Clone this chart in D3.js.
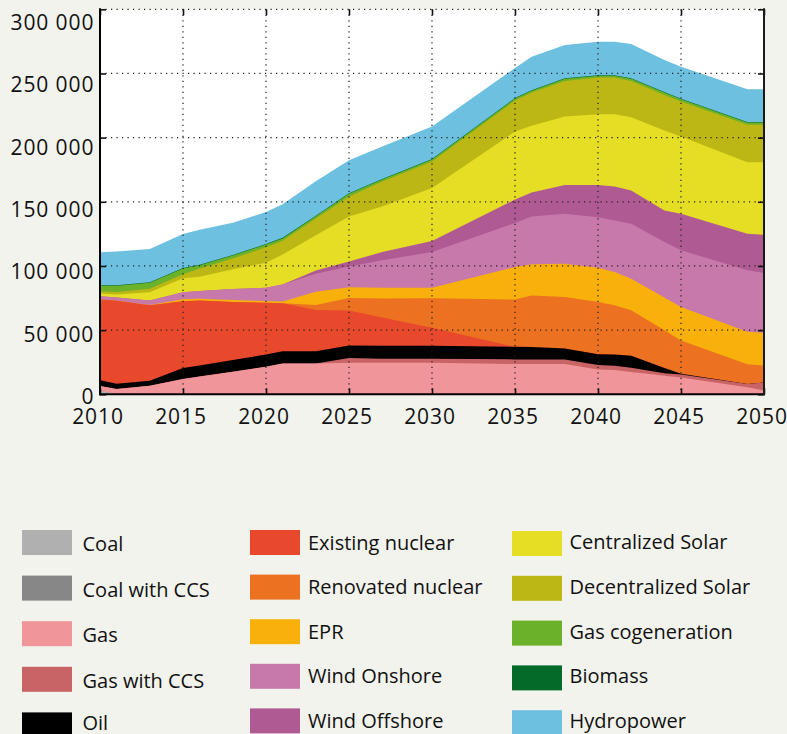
<!DOCTYPE html>
<html>
<head>
<meta charset="utf-8">
<title>Installed capacity by source</title>
<script src="https://d3js.org/d3.v7.min.js"></script>
<style>
  body { margin: 0; background: #f3f3ed; }
  svg { display: block; }
</style>
</head>
<body>
<svg id="chart"></svg>
<script>
// data (MW)
let years = [2010, 2011, 2013, 2015, 2016, 2018, 2020, 2021, 2023, 2025, 2027, 2030, 2035, 2036, 2038, 2040, 2041, 2042, 2044, 2045, 2049, 2050];

let coal               = [2500, 0, 0, 0, 0, 0, 0, 0, 0, 0, 0, 0, 0, 0, 0, 0, 0, 0, 0, 0, 0, 0];
let coalCCS            = [0, 0, 0, 0, 0, 0, 0, 0, 0, 0, 0, 0, 0, 0, 0, 0, 0, 0, 0, 0, 0, 0];
let gas                = [4000, 4200, 6600, 12000, 13800, 17500, 21500, 24000, 24000, 24600, 24600, 24600, 23600, 23600, 23600, 19400, 18900, 17400, 14400, 13000, 5400, 2900];
let gasCCS             = [0, 0, 0, 0, 0, 0, 0, 0, 0, 3600, 3100, 3100, 3600, 3600, 3600, 3400, 3400, 3300, 2100, 2500, 2600, 6200];
let oil                = [4500, 4100, 3900, 8500, 8700, 9300, 9500, 9600, 9600, 9900, 10100, 10100, 9800, 9600, 8500, 8500, 8800, 9300, 3900, 500, 0, 0];
let existingNuclear    = [62900, 64500, 58900, 52100, 50500, 45200, 40300, 37300, 32100, 27200, 22000, 14000, 0, 0, 0, 0, 0, 0, 0, 0, 0, 0];
let renovatedNuclear   = [0, 0, 0, 0, 0, 0, 0, 0, 3900, 9700, 14800, 23100, 36800, 40100, 40200, 40700, 38300, 35500, 29600, 26000, 15500, 13400];
let epr                = [0, 0, 200, 1400, 1400, 1400, 1400, 1400, 10300, 8500, 8500, 8200, 25400, 24400, 25900, 26700, 25900, 24600, 25400, 26100, 25200, 25400];
let windOnshore        = [2500, 2600, 3500, 5600, 6100, 8600, 10300, 13200, 14100, 16000, 21300, 27800, 34200, 37300, 38800, 39300, 40100, 42800, 43200, 44100, 47900, 46600];
let windOffshore       = [0, 0, 0, 0, 0, 0, 0, 0, 2500, 3900, 6500, 8500, 18400, 18700, 22400, 25000, 26600, 26000, 24600, 28500, 28500, 29800];
let centralizedSolar   = [2100, 2400, 6500, 10900, 11100, 15400, 19500, 23500, 27500, 35100, 35500, 41300, 53000, 51900, 53400, 55200, 56200, 57000, 62300, 60200, 55800, 56600];
let decentralizedSolar = [1800, 2000, 2600, 3100, 6500, 8500, 12000, 10600, 13000, 15700, 19500, 20700, 24100, 25900, 27800, 28600, 28600, 28300, 27800, 27200, 29100, 29100];
let gasCogeneration    = [4200, 4800, 4700, 4400, 2400, 2300, 2300, 1900, 1800, 2100, 1500, 1500, 1500, 1500, 1600, 1500, 1500, 1600, 1800, 1800, 1800, 1800];
let biomass            = [400, 400, 400, 400, 400, 400, 400, 400, 400, 400, 400, 400, 400, 400, 400, 400, 400, 400, 400, 400, 400, 400];
let hydropower         = [25800, 26200, 26000, 26600, 27300, 25000, 24800, 26200, 26800, 25700, 25300, 25400, 23500, 26100, 26000, 26100, 26100, 26700, 25000, 25000, 25500, 25500];

// legend labels, in stacking order (bottom first)
let names = ['Coal', 'Coal with CCS', 'Gas', 'Gas with CCS', 'Oil',
             'Existing nuclear', 'Renovated nuclear', 'EPR', 'Wind Onshore', 'Wind Offshore',
             'Centralized Solar', 'Decentralized Solar', 'Gas cogeneration', 'Biomass', 'Hydropower'];
let colors = ['#b0b0b1', '#878787', '#f09599', '#c96466', '#000000',
              '#e8492c', '#ec7121', '#f8b10a', '#c879ac', '#b05a93',
              '#e5de25', '#bcb714', '#6cb12a', '#036a2a', '#6dc0e0'];
let series = [coal, coalCCS, gas, gasCCS, oil,
              existingNuclear, renovatedNuclear, epr, windOnshore, windOffshore,
              centralizedSolar, decentralizedSolar, gasCogeneration, biomass, hydropower];

let yTicks = [0, 50000, 100000, 150000, 200000, 250000, 300000];
let xTicks = [2010, 2015, 2020, 2025, 2030, 2035, 2040, 2045, 2050];

// build rows for d3.stack
let rows = years.map((yr, i) => {
  let r = {year: yr};
  names.forEach((n, k) => { r[n] = series[k][i]; });
  return r;
});

let svg = d3.select('#chart').attr('width', 787).attr('height', 734);

let plot = {left: 100, right: 764, top: 9.3, bottom: 394.3};

let x = d3.scaleLinear().domain([2010, 2050]).range([plot.left, plot.right]);
let y = d3.scaleLinear().domain([0, 300000]).range([plot.bottom, plot.top]);
// the tick labels sit on a slightly tighter scale than the gridlines
let yLabel = d3.scaleLinear().domain([0, 300000]).range([396.6, 22.7]);

svg.append('rect')
  .attr('x', plot.left).attr('y', plot.top)
  .attr('width', plot.right - plot.left).attr('height', plot.bottom - plot.top)
  .attr('fill', '#ffffff');

let stacked = d3.stack().keys(names)(rows);

// paint from the top layer down, each from the baseline, so no seams show
let area = d3.area()
  .x(d => x(d.data.year))
  .y0(y(0))
  .y1(d => y(d[1]));

svg.append('g').attr('id', 'areas')
  .selectAll('path')
  .data(stacked.slice().reverse())
  .join('path')
  .attr('fill', d => colors[d.index])
  .attr('d', area);

// dotted grid
let grid = svg.append('g').attr('id', 'grid')
  .attr('stroke', '#1e1e1e').attr('stroke-width', 1.2).attr('stroke-dasharray', '1.2,4.3');

grid.selectAll('line.h')
  .data(yTicks.slice(1))
  .join('line').attr('class', 'h')
  .attr('x1', plot.left).attr('x2', plot.right)
  .attr('y1', d => y(d)).attr('y2', d => y(d));

grid.selectAll('line.v')
  .data(xTicks.slice(1, -1))
  .join('line').attr('class', 'v')
  .attr('x1', d => x(d)).attr('x2', d => x(d))
  .attr('y1', plot.top).attr('y2', plot.bottom);

// inward ticks on all four sides
let axes = svg.append('g').attr('id', 'axes');
axes.append('g').attr('transform', translate(plot.left, 0))
  .call(d3.axisLeft(y).tickValues(yTicks).tickSize(-6).tickFormat(''));
axes.append('g').attr('transform', translate(plot.right, 0))
  .call(d3.axisRight(y).tickValues(yTicks).tickSize(-6).tickFormat(''));
axes.append('g').attr('transform', translate(0, plot.bottom))
  .call(d3.axisBottom(x).tickValues(xTicks).tickSize(-6).tickFormat(''));
axes.append('g').attr('transform', translate(0, plot.top))
  .call(d3.axisTop(x).tickValues(xTicks).tickSize(-6).tickFormat(''));

axes.selectAll('.tick line').attr('stroke', '#111').attr('stroke-width', 1.6);
axes.selectAll('.domain').remove();

// frame: solid left, bottom, right
axes.append('line').attr('x1', plot.left).attr('x2', plot.left)
  .attr('y1', plot.top - 1).attr('y2', plot.bottom + 1)
  .attr('stroke', '#000').attr('stroke-width', 2);
axes.append('line').attr('x1', plot.left - 1).attr('x2', plot.right + 1)
  .attr('y1', plot.bottom).attr('y2', plot.bottom)
  .attr('stroke', '#000').attr('stroke-width', 2);
axes.append('line').attr('x1', plot.right).attr('x2', plot.right)
  .attr('y1', plot.top - 1).attr('y2', plot.bottom + 1)
  .attr('stroke', '#1a1a1a').attr('stroke-width', 2);

// tick labels
let fmt = d3.formatLocale({decimal: '.', thousands: ' ', grouping: [3], currency: ['', '']}).format(',');

svg.append('g').attr('id', 'y-labels')
  .selectAll('text')
  .data(yTicks)
  .join('text')
  .attr('x', 94.3)
  .attr('y', d => yLabel(d))
  .attr('dy', '0.35em')
  .attr('text-anchor', 'end')
  .style('font-family', '"Open Sans", sans-serif')
  .style('font-size', '21px')
  .style('letter-spacing', '0.9px')
  .attr('fill', '#111')
  .text(d => fmt(d));

svg.append('g').attr('id', 'x-labels')
  .selectAll('text')
  .data(xTicks)
  .join('text')
  .attr('x', d => x(d) - 2)
  .attr('y', 424)
  .attr('text-anchor', 'middle')
  .style('font-family', '"Open Sans", sans-serif')
  .style('font-size', '21px')
  .style('letter-spacing', '0.9px')
  .attr('fill', '#111')
  .text(d => d);

// legend: three columns of five
let legendCols = [
  {x: 22, text: 82.5, top: 530, step: 45.6, base: 21},
  {x: 250, text: 308, top: 530, step: 44.6, base: 19.5},
  {x: 512, text: 569.5, top: 531, step: 44.8, base: 18}
];

let legend = svg.append('g').attr('id', 'legend');
names.forEach((n, i) => {
  let col = legendCols[Math.floor(i / 5)];
  let row = i % 5;
  let top = col.top + row * col.step;
  legend.append('rect')
    .attr('x', col.x).attr('y', top)
    .attr('width', 50).attr('height', 25)
    .attr('fill', colors[i]);
  legend.append('text')
    .attr('x', col.text).attr('y', Math.min(top + col.base, 729.5))
    .style('font-family', '"Open Sans", sans-serif')
    .style('font-size', '20px')
    .attr('fill', '#111')
    .text(n);
});

function translate(x, y) {
  return 'translate(' + x + ',' + y + ')';
}
</script>
</body>
</html>
